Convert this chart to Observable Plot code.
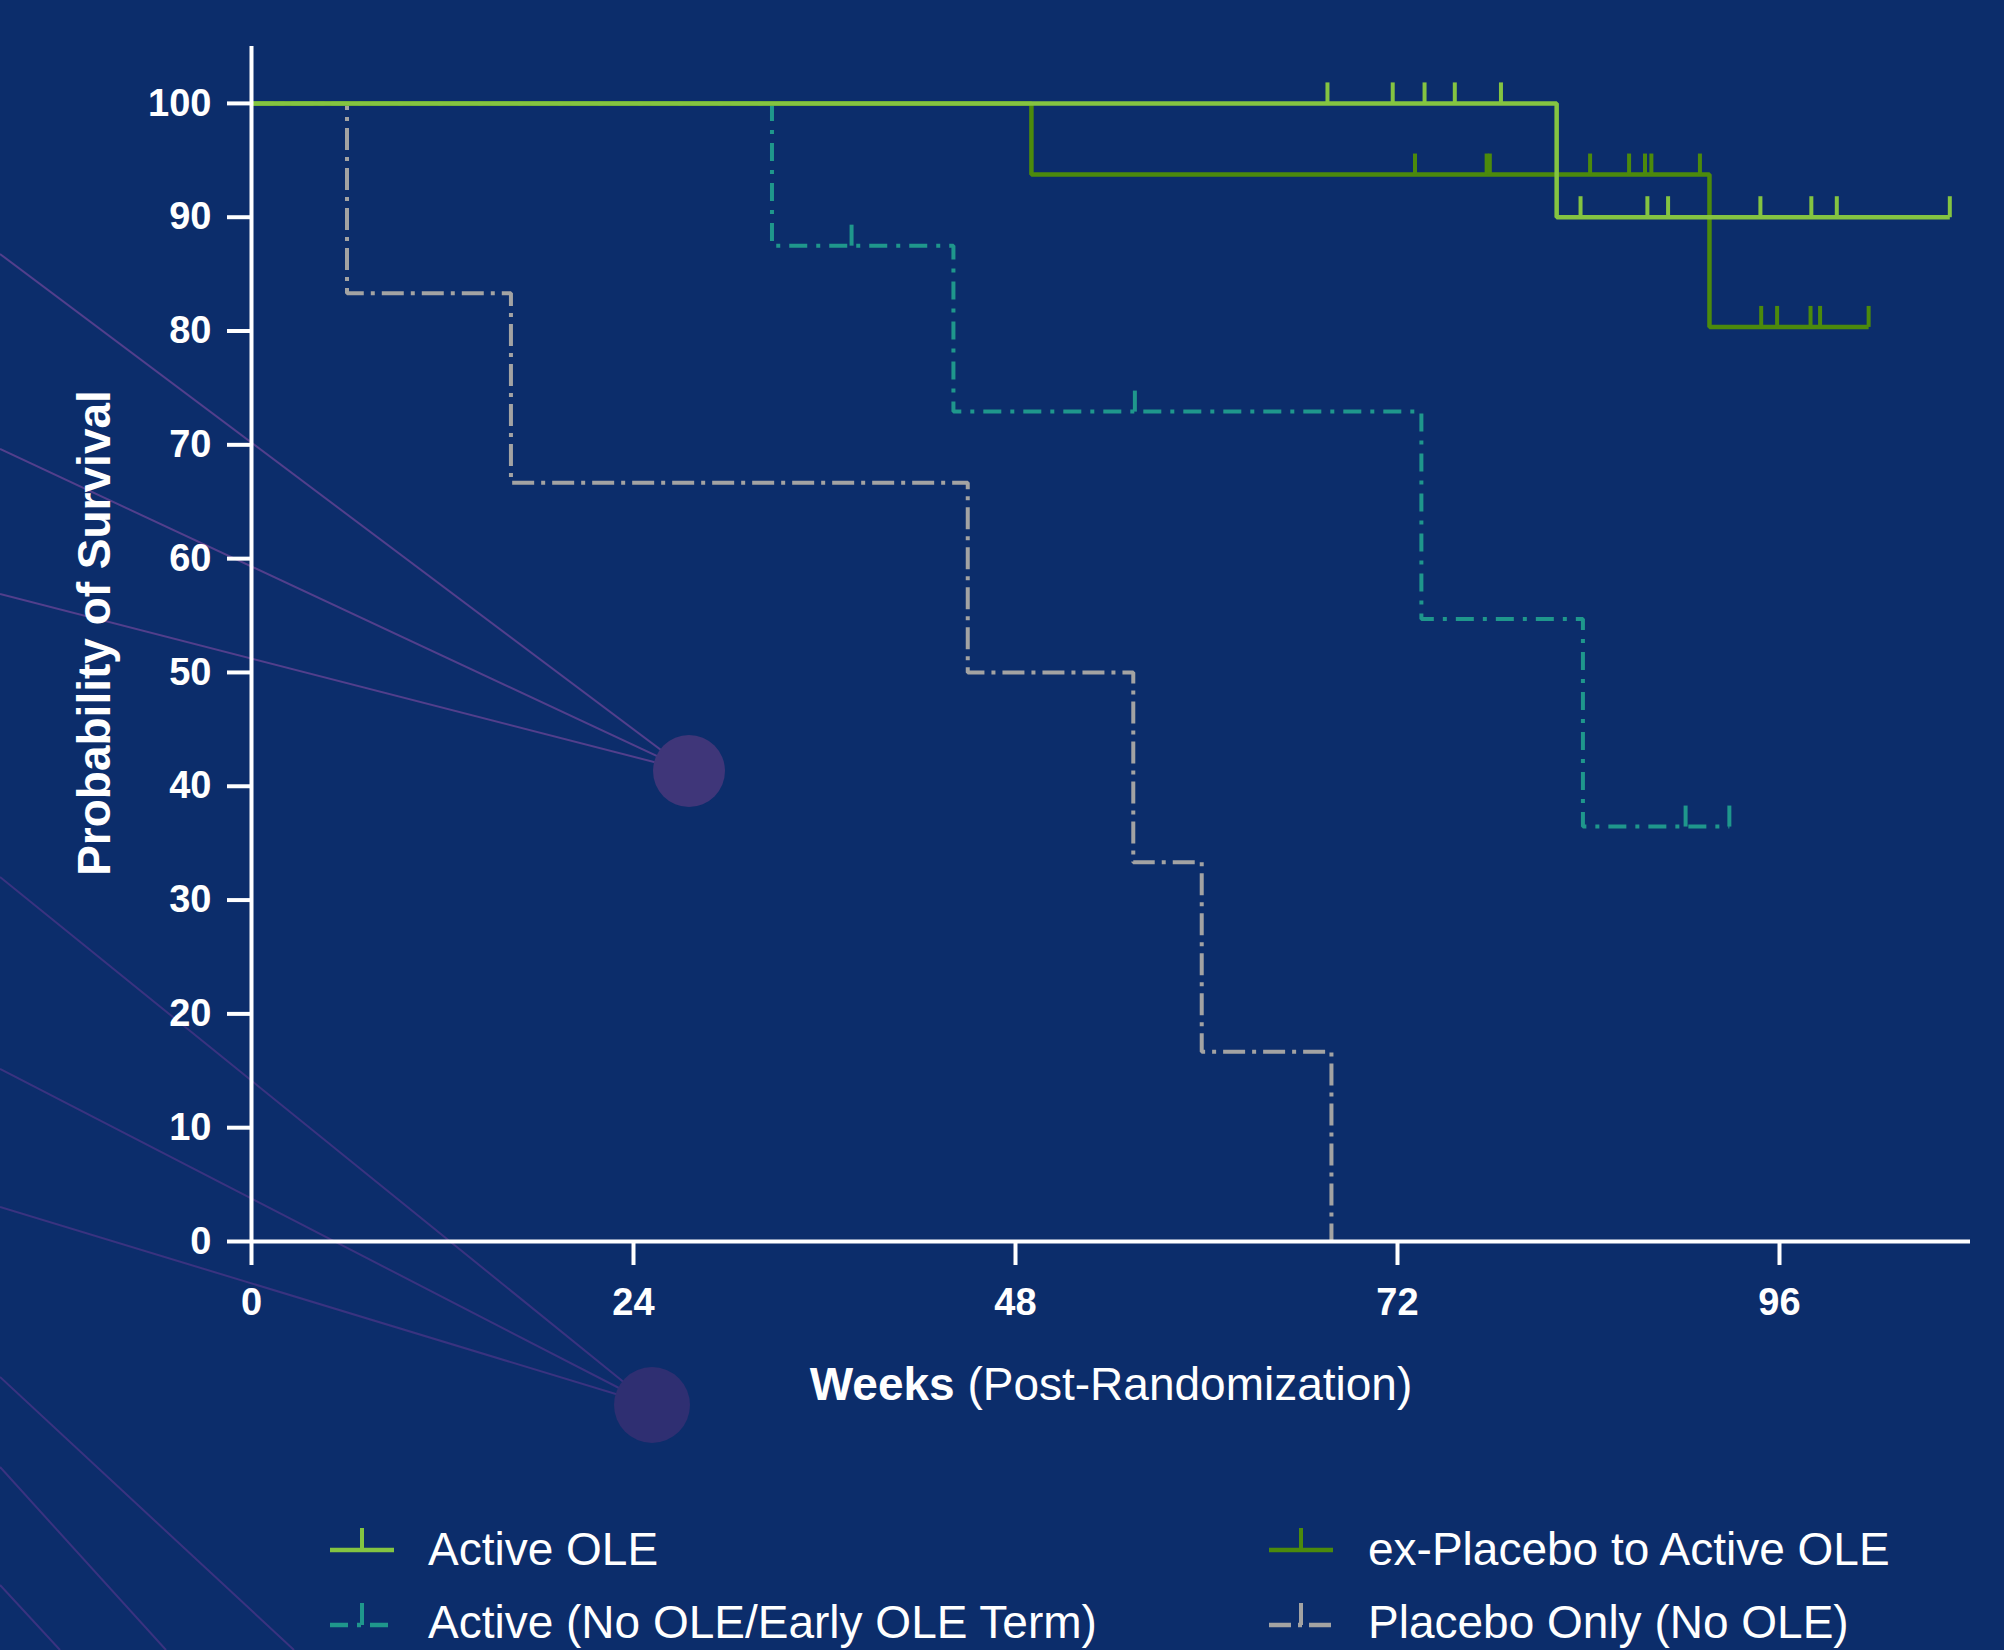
<!DOCTYPE html>
<html>
<head>
<meta charset="utf-8">
<script src="https://cdn.jsdelivr.net/npm/d3@7"></script>
<script src="https://cdn.jsdelivr.net/npm/@observablehq/plot@0.6"></script>
<style>
html, body { margin: 0; padding: 0; background: #0c2d6b; }
#page { position: relative; width: 2004px; height: 1650px; overflow: hidden; background: #0c2d6b;
        font-family: "Liberation Sans", Arial, Helvetica, sans-serif; }
#deco, #chart, #legend { position: absolute; left: 0; }
#deco { top: 0; }
#chart { top: 0; }
#legend { top: 1460px; }
</style>
</head>
<body>
<div id="page">
  <svg id="deco" width="2004" height="1650"></svg>
  <div id="chart"></div>
  <svg id="legend" width="2004" height="190"></svg>
</div>
<script>
// ---------------- data ----------------
const seriesNames  = ["Active OLE", "ex-Placebo to Active OLE", "Active (No OLE/Early OLE Term)", "Placebo Only (No OLE)"];
const seriesColors = ["#84c441", "#4c8a0c", "#1f978c", "#a3a3a3"];
const seriesDash   = [null, null, "18,9,4,9", "22,7,4,7"];

// Kaplan-Meier step points (weeks, survival %)
const activeOLEWeeks = [0, 82.0, 106.7];
const activeOLESurv  = [100, 90, 90];
const exPlaceboWeeks = [0, 49.0, 91.6, 101.6];
const exPlaceboSurv  = [100, 93.75, 80.36, 80.36];
const activeNoOLEWeeks = [0, 32.7, 44.1, 73.5, 83.65, 92.85];
const activeNoOLESurv  = [100, 87.5, 72.92, 54.69, 36.46, 36.46];
const placeboWeeks = [0, 6.0, 16.3, 45.0, 55.4, 59.7, 67.85];
const placeboSurv  = [100, 83.33, 66.67, 50, 33.33, 16.67, 0];

// censored observations
const activeOLECensorWeeks = [67.6, 71.7, 73.7, 75.6, 78.5, 83.5, 87.7, 89.0, 94.8, 98.0, 99.6, 106.7];
const activeOLECensorSurv  = [100, 100, 100, 100, 100, 90, 90, 90, 90, 90, 90, 90];
const exPlaceboCensorWeeks = [73.1, 77.6, 77.8, 84.1, 86.55, 87.55, 87.95, 91.0, 94.85, 95.85, 97.95, 98.55, 101.6];
const exPlaceboCensorSurv  = [93.75, 93.75, 93.75, 93.75, 93.75, 93.75, 93.75, 93.75, 80.36, 80.36, 80.36, 80.36, 80.36];
const activeNoOLECensorWeeks = [37.7, 55.5, 90.1, 92.85];
const activeNoOLECensorSurv  = [87.5, 72.92, 36.46, 36.46];
const placeboCensorWeeks = [];
const placeboCensorSurv  = [];

const xTicks = [0, 24, 48, 72, 96];
const yTicks = [0, 10, 20, 30, 40, 50, 60, 70, 80, 90, 100];
const xTitleBold = "Weeks";
const xTitleRest = " (Post-Randomization)";
const yTitle = "Probability of Survival";

// ---------------- build tables ----------------
const stepArrays = [
  [activeOLEWeeks, activeOLESurv],
  [exPlaceboWeeks, exPlaceboSurv],
  [activeNoOLEWeeks, activeNoOLESurv],
  [placeboWeeks, placeboSurv]
];
const censorArrays = [
  [activeOLECensorWeeks, activeOLECensorSurv],
  [exPlaceboCensorWeeks, exPlaceboCensorSurv],
  [activeNoOLECensorWeeks, activeNoOLECensorSurv],
  [placeboCensorWeeks, placeboCensorSurv]
];
const toRows = (arr, i) => arr[0].map((w, k) => ({series: seriesNames[i], week: w, surv: arr[1][k]}));
const lineTables = stepArrays.map(toRows);
const censorTables = censorArrays.map(toRows);

const tickSymbol = { draw(ctx) { ctx.moveTo(0, 0); ctx.lineTo(0, -21); } };

const drawOrder = [3, 2, 1, 0];
const marks = [];
for (const i of drawOrder) {
  marks.push(Plot.line(lineTables[i], {
    x: "week", y: "surv", curve: "step-after",
    stroke: seriesColors[i], strokeWidth: seriesDash[i] ? 4 : 4.5,
    strokeDasharray: seriesDash[i] || undefined,
    strokeLinecap: "butt", strokeLinejoin: "miter"
  }));
  marks.push(Plot.dot(censorTables[i], {
    x: "week", y: "surv", symbol: tickSymbol, fill: "none",
    stroke: seriesColors[i], strokeWidth: 4
  }));
}

marks.push(
  Plot.ruleX([0], {stroke: "white", strokeWidth: 4}),
  Plot.ruleY([0], {stroke: "white", strokeWidth: 4}),
  Plot.axisX({ticks: xTicks, tickSize: 24, tickPadding: 23, strokeWidth: 4, label: null, fontSize: 38, stroke: "white", fill: "white"}),
  Plot.axisY({ticks: yTicks, tickSize: 24, tickPadding: 16, strokeWidth: 4, label: null, fontSize: 38, stroke: "white", fill: "white"}),
  Plot.text([yTitle], {text: d => d, frameAnchor: "left", textAnchor: "middle", rotate: -90, dx: -156, dy: -11,
    fontSize: 46, fontWeight: "bold", fill: "white"}),
  Plot.text([xTitleBold + xTitleRest], {text: d => d, frameAnchor: "bottom", textAnchor: "middle", dy: 158, lineAnchor: "bottom",
    fontSize: 46, fill: "white"})
);

const chart = Plot.plot({
  width: 2004, height: 1460,
  marginLeft: 251, marginRight: 34, marginTop: 46, marginBottom: 219,
  style: {background: "transparent", color: "white", fontFamily: "'Liberation Sans', Arial, Helvetica, sans-serif",
          fontSize: "38px", fontWeight: "bold", overflow: "visible"},
  x: {domain: [0, 108]},
  y: {domain: [0, 105]},
  marks
});
document.getElementById("chart").appendChild(chart);

// x title: bold "Weeks" + regular rest
const ns = "http://www.w3.org/2000/svg";
for (const t of chart.querySelectorAll("text")) {
  if (t.textContent === xTitleBold + xTitleRest) {
    t.textContent = "";
    const t1 = document.createElementNS(ns, "tspan");
    t1.setAttribute("font-weight", "bold");
    t1.style.fontWeight = "bold";
    t1.textContent = xTitleBold;
    const t2 = document.createElementNS(ns, "tspan");
    t2.setAttribute("font-weight", "normal");
    t2.style.fontWeight = "normal";
    t2.textContent = xTitleRest;
    t.appendChild(t1); t.appendChild(t2);
    t.style.whiteSpace = "pre";
  }
}

// ---------------- legend ----------------
const legend = d3.select("#legend");
const legendCols = [{sx: 330, tx: 428}, {sx: 1269, tx: 1368}];
const legendRows = [{ly: 90, ty: 105}, {ly: 165, ty: 178}];
seriesNames.forEach((name, i) => {
  const c = legendCols[i % 2], r = legendRows[Math.floor(i / 2)];
  const g = legend.append("g");
  g.append("line").attr("x1", c.sx).attr("x2", c.sx + 64).attr("y1", r.ly).attr("y2", r.ly)
    .attr("stroke", seriesColors[i]).attr("stroke-width", 4.5)
    .attr("stroke-dasharray", seriesDash[i] || null);
  g.append("line").attr("x1", c.sx + 32).attr("x2", c.sx + 32).attr("y1", r.ly).attr("y2", r.ly - 22)
    .attr("stroke", seriesColors[i]).attr("stroke-width", 4);
  g.append("text").attr("x", c.tx).attr("y", r.ty).text(name)
    .attr("fill", "white").attr("font-size", 46)
    .attr("font-family", "'Liberation Sans', Arial, Helvetica, sans-serif");
});

// ---------------- background decoration (not data) ----------------
const deco = d3.select("#deco");
const decoLines = [
  [0, 254, 689, 771, "#523f8c"], [0, 449, 689, 771, "#523f8c"], [0, 594, 689, 771, "#523f8c"],
  [0, 877, 652, 1405, "#3a3380"], [0, 1069, 652, 1405, "#3a3380"], [0, 1207, 652, 1405, "#3a3380"],
  [0, 1377, 294, 1650, "#3a3380"], [0, 1467, 166, 1650, "#3a3380"], [0, 1585, 60, 1650, "#3a3380"]
];
decoLines.forEach(([x1, y1, x2, y2, c]) => {
  deco.append("line").attr("x1", x1).attr("y1", y1).attr("x2", x2).attr("y2", y2)
    .attr("stroke", c).attr("stroke-width", 2);
});
deco.append("circle").attr("cx", 689).attr("cy", 771).attr("r", 36).attr("fill", "#3f3679");
deco.append("circle").attr("cx", 652).attr("cy", 1405).attr("r", 38).attr("fill", "#2f2f72");
</script>
</body>
</html>
